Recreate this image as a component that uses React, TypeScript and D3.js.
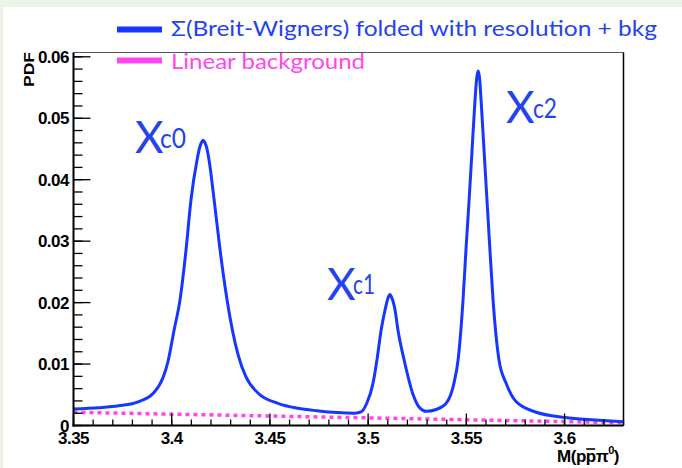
import React, { useLayoutEffect, useRef, useState } from "react";
import * as d3 from "d3";

// ---- data ----
const massPoints = [
  3.35, 3.363, 3.373, 3.3833, 3.3905, 3.3956, 3.3981, 3.4012, 3.4042, 3.4073, 3.4098, 3.4129, 3.4142, 3.4152, 3.416,
  3.4168, 3.4178, 3.419, 3.4216, 3.4246, 3.4282, 3.4338, 3.4378, 3.4439, 3.4541, 3.4643, 3.474, 3.4842, 3.4933,
  3.4964, 3.4994, 3.5025, 3.5045, 3.5066, 3.5086, 3.5103, 3.5111, 3.5119, 3.5137, 3.5152, 3.5183, 3.5227, 3.5257,
  3.5297, 3.5346, 3.5397, 3.5437, 3.5458, 3.5483, 3.5498, 3.5514, 3.5529, 3.5544, 3.5553, 3.556, 3.5567, 3.5575,
  3.559, 3.5605, 3.562, 3.5636, 3.5666, 3.5702, 3.5753, 3.5852, 3.6003, 3.6155, 3.63,
];
const pdfValues = [
  0.0027, 0.0029, 0.0032, 0.0039, 0.0052, 0.0078, 0.0104, 0.0155, 0.0204, 0.0286, 0.0367, 0.0432, 0.0452, 0.0461,
  0.0464, 0.0461, 0.0452, 0.0432, 0.0367, 0.0286, 0.0204, 0.0115, 0.0079, 0.0053, 0.0036, 0.0028, 0.0024, 0.0021,
  0.002, 0.0022, 0.0037, 0.0069, 0.0107, 0.0155, 0.0188, 0.0209, 0.0213, 0.0209, 0.0188, 0.0155, 0.0107, 0.0052,
  0.0031, 0.0023, 0.0026, 0.0036, 0.0069, 0.0107, 0.0204, 0.0286, 0.0367, 0.0448, 0.0529, 0.0566, 0.0577, 0.0566,
  0.0529, 0.0448, 0.0367, 0.0286, 0.0204, 0.0107, 0.0069, 0.0039, 0.0022, 0.0013, 0.0009, 0.0006,
];
const bkgMass = [3.35, 3.63];
const bkgValues = [0.00215, 0.00045];

const xTicks = [3.35, 3.4, 3.45, 3.5, 3.55, 3.6];
const xTickLabels = ["3.35", "3.4", "3.45", "3.5", "3.55", "3.6"];
const yTicks = [0, 0.01, 0.02, 0.03, 0.04, 0.05, 0.06];
const yTickLabels = ["0", "0.01", "0.02", "0.03", "0.04", "0.05", "0.06"];
const legendLabels = ["\u03a3(Breit-Wigners) folded with resolution + bkg", "Linear background"];
const peakLabels = [
  { main: "X", sub: "c0" },
  { main: "X", sub: "c1" },
  { main: "X", sub: "c2" },
];

const W = 682;
const H = 468;
const left = 73.5;
const right = 623.5;
const top = 52.5;
const bottom = 425.5;

const BLUE = "#1537ff";
const TEXT_BLUE = "#2443ee";
const PINK = "#ff45f0";

export default function App() {
  const titleRef = useRef<SVGTextElement>(null);
  const [ol, setOl] = useState<{ x1: number; x2: number; y: number } | null>(null);

  useLayoutEffect(() => {
    const t = titleRef.current;
    if (!t) return;
    try {
      const s = t.getStartPositionOfChar(3);
      const e = t.getEndPositionOfChar(3);
      setOl({ x1: s.x + 0.5, x2: e.x - 0.5, y: s.y - 13 });
    } catch (err) {
      // ignore
    }
  }, []);

  const x = d3.scaleLinear().domain([3.35, 3.63]).range([left, right]);
  const y = d3.scaleLinear().domain([0, 0.0607]).range([bottom, top]);

  const curve = d3
    .line<number>()
    .x((d, i) => x(massPoints[i]))
    .y((d) => y(d))
    .curve(d3.curveMonotoneX)(pdfValues) as string;

  const bkg = d3
    .line<number>()
    .x((d, i) => x(bkgMass[i]))
    .y((d) => y(d))(bkgValues) as string;

  const xMinor = d3.range(0, 29).map((i) => 3.35 + i * 0.01).filter((v) => v <= 3.6301);
  const yMinor = d3.range(0, 31).map((i) => i * 0.002).filter((v) => v <= 0.0607);

  const tickFont = "'Liberation Sans', Arial, sans-serif";
  const gill = "Lato, 'Open Sans', sans-serif";

  const peakPos = [
    { xm: 135, bm: 153, xs: 160, bs: 148, ws: 26 },
    { xm: 327, bm: 300, xs: 353, bs: 294, ws: 22 },
    { xm: 506, bm: 123, xs: 533, bs: 118, ws: 24 },
  ];

  return (
    <svg width={W} height={H} style={{ position: "absolute", left: 0, top: 0, background: "#ffffff" }}>
      <rect x={0} y={0} width={W} height={H} fill="#ffffff" />
      <rect x={0} y={0} width={W} height={7} fill="#ecf4e6" />
      <rect x={0} y={0} width={3} height={H} fill="#ecf4e6" />

      <defs>
        <clipPath id="plotClip">
          <rect x={left} y={top} width={right - left} height={bottom - top} />
        </clipPath>
      </defs>

      {/* frame */}
      <line x1={left} y1={top} x2={right} y2={top} stroke="#555" strokeWidth={1.2} />
      <line x1={right} y1={top} x2={right} y2={bottom} stroke="#000" strokeWidth={1.5} />

      {/* curves */}
      <g clipPath="url(#plotClip)">
        <path d={bkg} fill="none" stroke={PINK} strokeWidth={3.5} strokeDasharray="4 4" />
        <path d={curve} fill="none" stroke={BLUE} strokeWidth={3} strokeLinejoin="round" />
      </g>

      {/* y axis */}
      <line x1={left} y1={top} x2={left} y2={bottom + 1} stroke="#000" strokeWidth={2} />
      {yMinor.map((v, i) => (
        <line key={"ym" + i} x1={left} x2={left + 9} y1={y(v)} y2={y(v)} stroke="#000" strokeWidth={1.3} />
      ))}
      {yTicks.map((v, i) => (
        <g key={"yt" + i}>
          <line x1={left} x2={left + 17} y1={y(v)} y2={y(v)} stroke="#000" strokeWidth={1.3} />
          <text
            x={69}
            y={y(v)}
            dy="0.36em"
            textAnchor="end"
            fontFamily={tickFont}
            fontWeight="bold"
            fontSize={17}
            letterSpacing={-0.5}
            fill="#000"
          >
            {yTickLabels[i]}
          </text>
        </g>
      ))}

      {/* x axis */}
      <line x1={left - 1} y1={bottom} x2={right} y2={bottom} stroke="#000" strokeWidth={2} />
      {xMinor.map((v, i) => (
        <line key={"xm" + i} x1={x(v)} x2={x(v)} y1={bottom} y2={bottom - 6} stroke="#000" strokeWidth={1.3} />
      ))}
      {xTicks.map((v, i) => (
        <g key={"xt" + i}>
          <line x1={x(v)} x2={x(v)} y1={bottom} y2={bottom - 12} stroke="#000" strokeWidth={1.3} />
          <text
            x={x(v)}
            y={444}
            textAnchor="middle"
            fontFamily={tickFont}
            fontWeight="bold"
            fontSize={17}
            letterSpacing={-0.5}
            fill="#000"
          >
            {xTickLabels[i]}
          </text>
        </g>
      ))}

      {/* axis titles */}
      <text
        ref={titleRef}
        x={619}
        y={462}
        textAnchor="end"
        fontFamily={tickFont}
        fontWeight="bold"
        fontSize={17}
        letterSpacing={-0.5}
        fill="#000"
      >
        M(p<tspan>p</tspan>
        {"\u03c0"}
        <tspan dy={-8} fontSize={11}>
          0
        </tspan>
        <tspan dy={8}>)</tspan>
      </text>
      {ol && <line x1={ol.x1} x2={ol.x2} y1={ol.y} y2={ol.y} stroke="#000" strokeWidth={1.6} />}
      <text
        transform="translate(34,52) rotate(-90)"
        textAnchor="end"
        fontFamily={tickFont}
        fontWeight="bold"
        fontSize={15}
        textLength={35}
        lengthAdjust="spacingAndGlyphs"
        fill="#000"
      >
        PDF
      </text>

      {/* legend */}
      <line x1={117} x2={162} y1={29.5} y2={29.5} stroke={BLUE} strokeWidth={6} />
      <text x={171} y={36} fontFamily={gill} fontSize={21} fill={TEXT_BLUE} textLength={486} lengthAdjust="spacingAndGlyphs">
        {legendLabels[0]}
      </text>
      <line x1={117} x2={162} y1={60.5} y2={60.5} stroke={PINK} strokeWidth={6} />
      <text x={171} y={68.5} fontFamily={gill} fontSize={21} fill={PINK} textLength={194} lengthAdjust="spacingAndGlyphs">
        {legendLabels[1]}
      </text>

      {/* peak labels */}
      {peakLabels.map((p, i) => (
        <g key={"pk" + i} fill={TEXT_BLUE} fontFamily={gill}>
          <text x={peakPos[i].xm} y={peakPos[i].bm} fontSize={44}>
            {p.main}
          </text>
          <text x={peakPos[i].xs} y={peakPos[i].bs} fontSize={26} textLength={peakPos[i].ws} lengthAdjust="spacingAndGlyphs">
            {p.sub}
          </text>
        </g>
      ))}
    </svg>
  );
}
